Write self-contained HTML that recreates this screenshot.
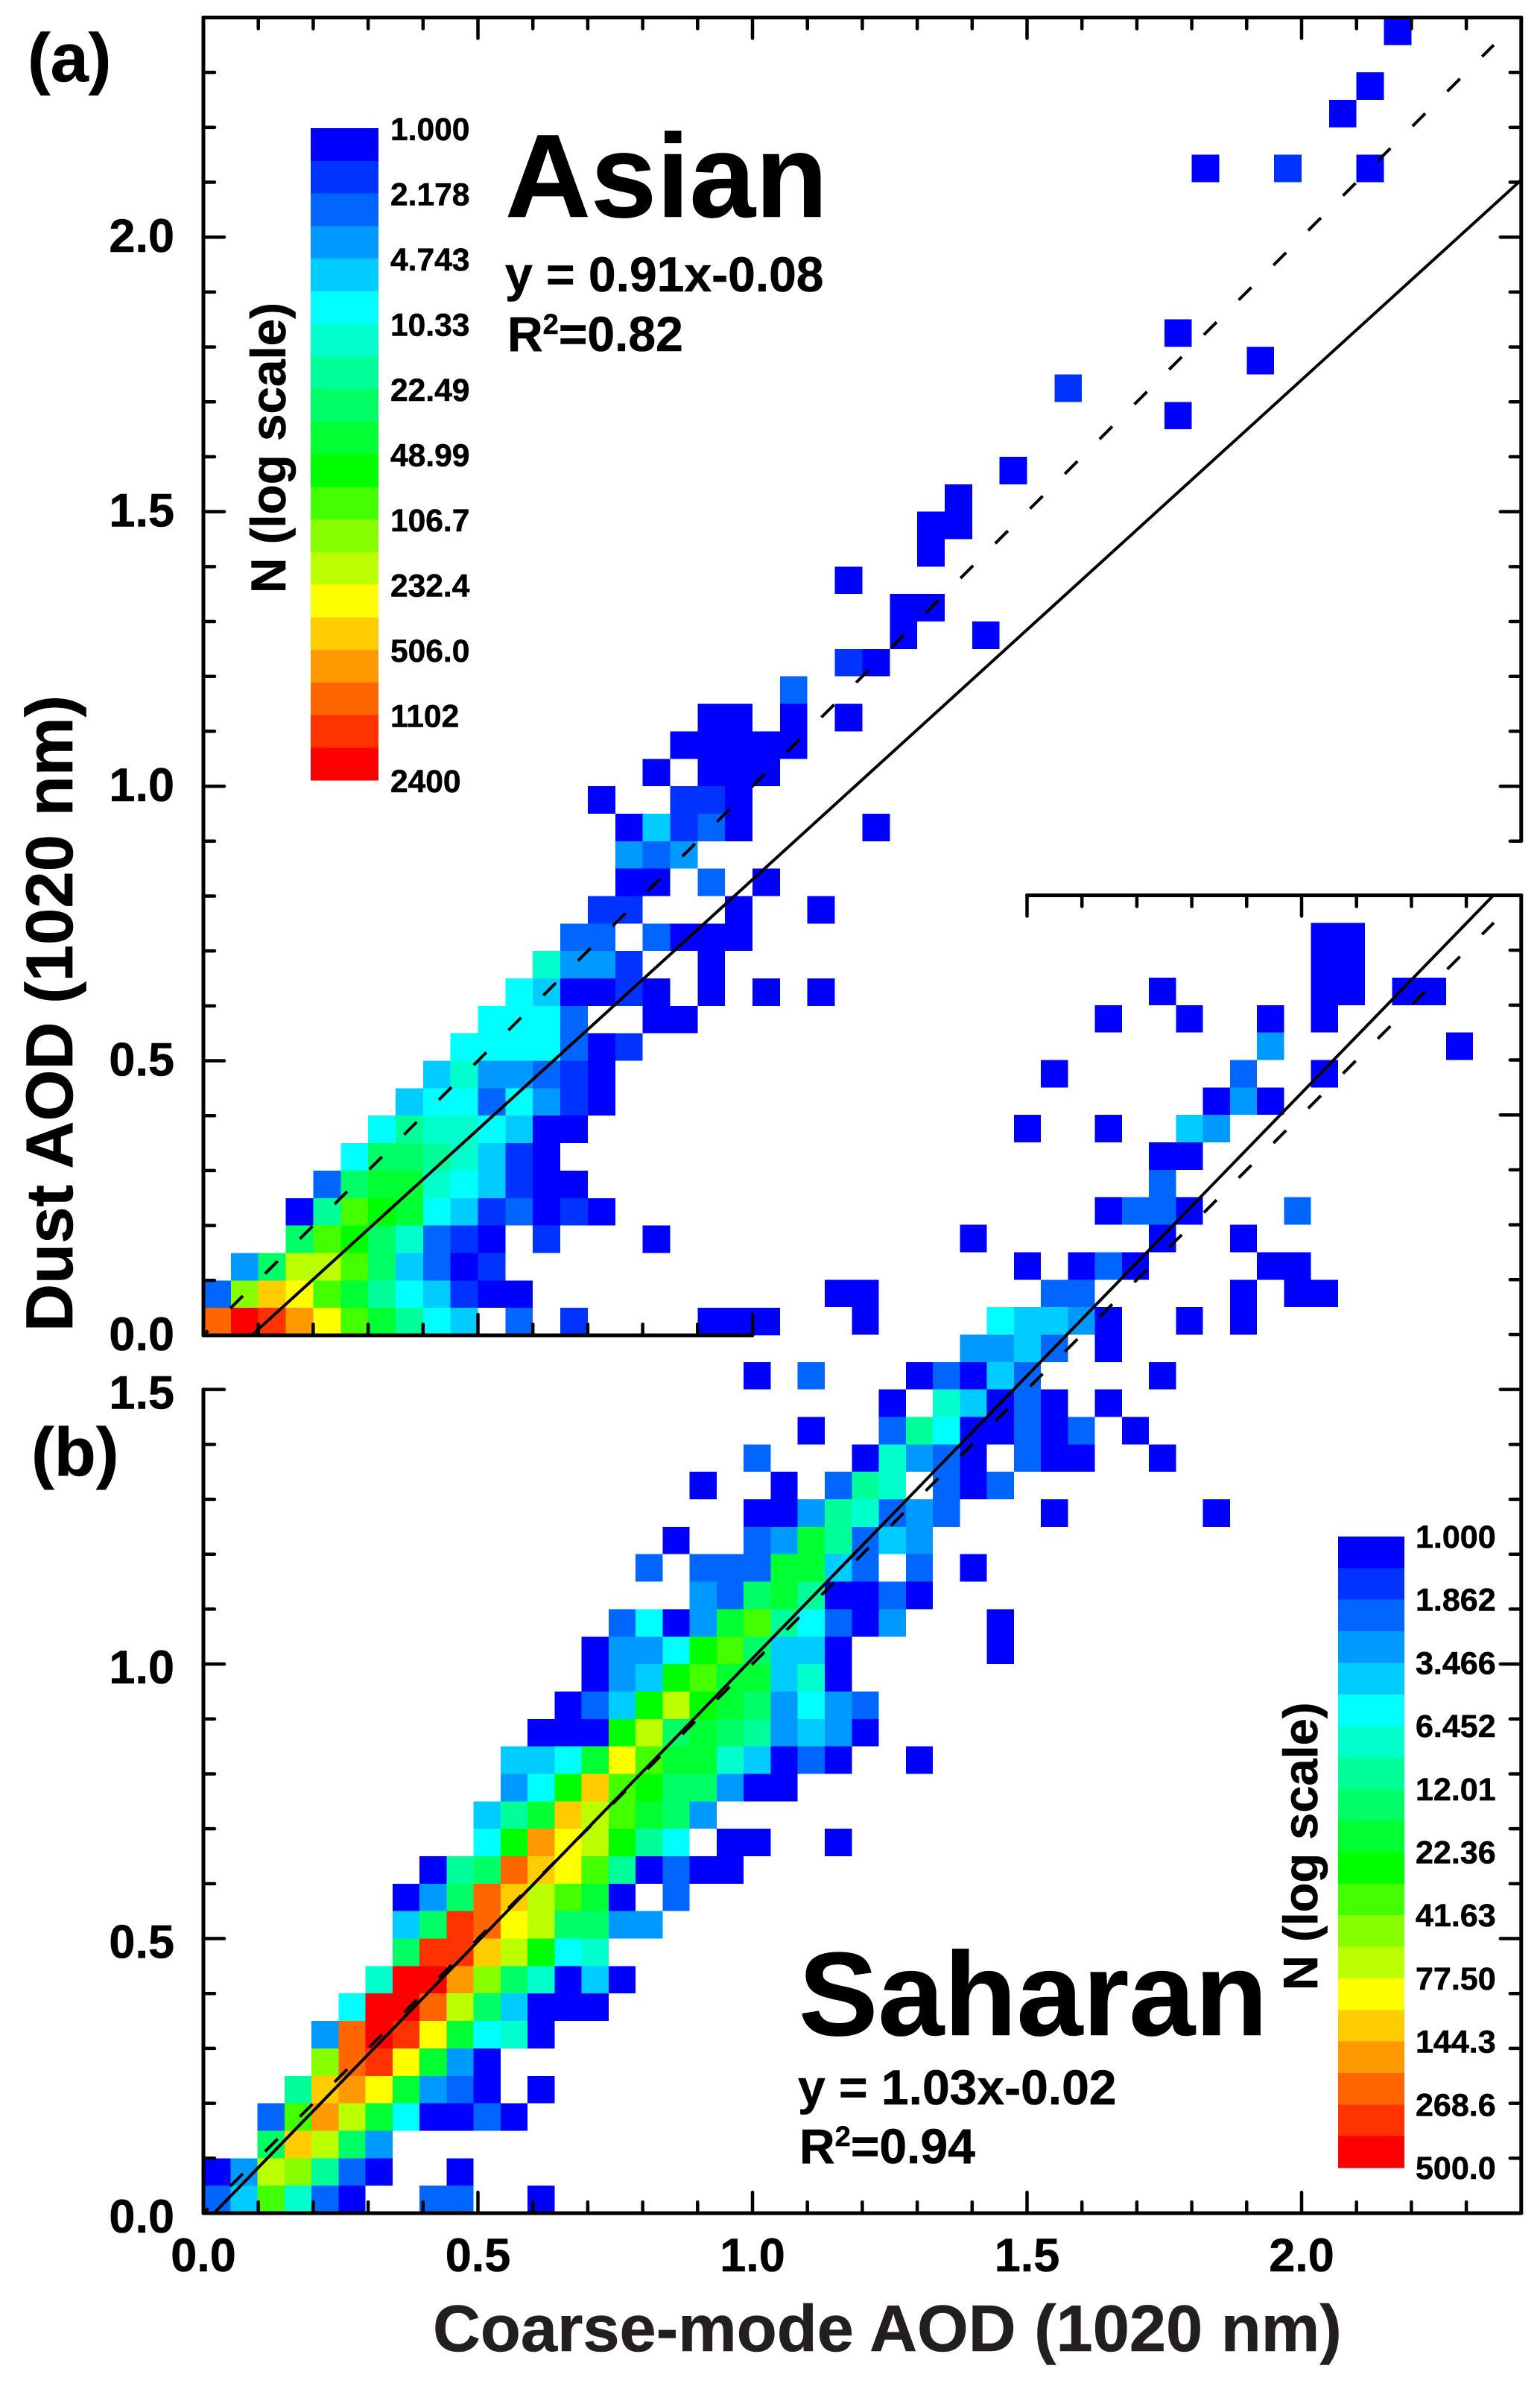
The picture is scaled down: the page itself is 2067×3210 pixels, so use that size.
<!DOCTYPE html>
<html lang="en">
<head>
<meta charset="utf-8">
<title>Dust AOD vs Coarse-mode AOD</title>
<style>
html,body{margin:0;padding:0;background:#fff;}
svg{display:block;}
text{font-family:"Liberation Sans",sans-serif;font-weight:bold;fill:#000;stroke:#000;stroke-width:0.6px;}
</style>
</head>
<body>
<svg id="chart" width="2067" height="3210" viewBox="0 0 2067 3210" xmlns="http://www.w3.org/2000/svg">
<rect x="0" y="0" width="2067" height="3210" fill="#fff"/>
<g id="cells"></g>
<g id="lines"></g>
<g id="axes"></g>
<g id="bars"></g>
<text x="37" y="109" font-size="92">(a)</text>
<text x="42" y="1980" font-size="92">(b)</text>
<text x="678" y="291" font-size="159">Asian</text>
<text x="678" y="391" font-size="66">y = 0.91x-0.08</text>
<text x="681" y="471" font-size="66">R<tspan font-size="38" dy="-23">2</tspan><tspan dy="23">=0.82</tspan></text>
<text x="1072" y="2731" font-size="159.5">Saharan</text>
<text x="1071" y="2824" font-size="66">y = 1.03x-0.02</text>
<text x="1073" y="2903" font-size="66">R<tspan font-size="38" dy="-23">2</tspan><tspan dy="23">=0.94</tspan></text>
<text transform="translate(97,1787) rotate(-90)" font-size="88.7">Dust AOD (1020 nm)</text>
<text x="581" y="3155" font-size="88.4" style="fill:#231f20;stroke:#231f20">Coarse-mode AOD (1020 nm)</text>
<text transform="translate(383,796) rotate(-90)" font-size="65.6">N (log scale)</text>
<text transform="translate(1768,2671) rotate(-90)" font-size="65">N (log scale)</text>
</svg>
<script>
// Colour bins of the N legend (bin 1 = lowest count, bin 20 = highest)
const colorBins = ["#0000ff","#0033ff","#0066ff","#0099ff","#00ccff","#00ffff","#00ffcc","#00ff99","#00ff66","#00ff33","#00ff00","#44ff00","#88ff00","#bbff00","#ffff00","#ffcc00","#ff9900","#ff6600","#ff3300","#ff0000"];
const asianLegendLabels = ["1.000","2.178","4.743","10.33","22.49","48.99","106.7","232.4","506.0","1102","2400"];
const saharanLegendLabels = ["1.000","1.862","3.466","6.452","12.01","22.36","41.63","77.50","144.3","268.6","500.0"];
const asianYLabels = [0,0.5,1,1.5,2];
const saharanYLabels = [0,0.5,1,1.5];
const saharanXLabels = [0,0.5,1,1.5,2];
const asianFit = [0.91,-0.08];
const saharanFit = [1.03,-0.02];
const oneToOneEnd = [2.35];

// Asian panel: colour-bin of each 0.05 x 0.05 AOD cell; outer index = Dust AOD bin, inner = coarse-mode AOD bin; 0 = empty
const asianLevels = [
[18,20,19,17,15,12,10,8,6,5,0,3,0,2,0,0,0,0,1,1,1],
[3,13,16,15,12,10,8,6,5,2,1,1],
[0,4,9,14,14,12,9,5,3,1,2],
[0,0,0,9,12,11,9,7,3,2,1,0,2,0,0,0,1],
[0,0,0,1,8,12,11,10,6,5,2,3,1,2,1],
[0,0,0,0,3,9,10,10,7,6,5,2,1,1],
[0,0,0,0,0,6,9,9,8,7,5,2,1],
[0,0,0,0,0,0,6,8,7,7,6,5,1,1],
[0,0,0,0,0,0,0,5,6,6,3,6,4,2,1],
[0,0,0,0,0,0,0,0,5,7,4,4,3,2,1],
[0,0,0,0,0,0,0,0,0,6,6,6,6,3,1,2],
[0,0,0,0,0,0,0,0,0,0,6,6,6,3,0,0,1,1],
[0,0,0,0,0,0,0,0,0,0,0,6,5,1,1,2,1,0,1,0,1,0,1],
[0,0,0,0,0,0,0,0,0,0,0,0,7,4,4,2,0,0,1],
[0,0,0,0,0,0,0,0,0,0,0,0,0,3,3,0,3,1,1,1],
[0,0,0,0,0,0,0,0,0,0,0,0,0,0,2,2,0,0,0,1,0,0,1],
[0,0,0,0,0,0,0,0,0,0,0,0,0,0,0,1,1,0,3,0,1],
[0,0,0,0,0,0,0,0,0,0,0,0,0,0,0,4,3,4],
[0,0,0,0,0,0,0,0,0,0,0,0,0,0,0,1,5,2,3,1,0,0,0,0,1],
[0,0,0,0,0,0,0,0,0,0,0,0,0,0,1,0,0,2,2,1],
[0,0,0,0,0,0,0,0,0,0,0,0,0,0,0,0,1,0,1,1,1],
[0,0,0,0,0,0,0,0,0,0,0,0,0,0,0,0,0,1,1,1,1,1],
[0,0,0,0,0,0,0,0,0,0,0,0,0,0,0,0,0,0,1,1,0,1,0,1],
[0,0,0,0,0,0,0,0,0,0,0,0,0,0,0,0,0,0,0,0,0,3],
[0,0,0,0,0,0,0,0,0,0,0,0,0,0,0,0,0,0,0,0,0,0,0,2,1],
[0,0,0,0,0,0,0,0,0,0,0,0,0,0,0,0,0,0,0,0,0,0,0,0,0,1,0,0,1],
[0,0,0,0,0,0,0,0,0,0,0,0,0,0,0,0,0,0,0,0,0,0,0,0,0,1,1],
[0,0,0,0,0,0,0,0,0,0,0,0,0,0,0,0,0,0,0,0,0,0,0,1],
[0,0,0,0,0,0,0,0,0,0,0,0,0,0,0,0,0,0,0,0,0,0,0,0,0,0,1],
[0,0,0,0,0,0,0,0,0,0,0,0,0,0,0,0,0,0,0,0,0,0,0,0,0,0,1,1],
[0,0,0,0,0,0,0,0,0,0,0,0,0,0,0,0,0,0,0,0,0,0,0,0,0,0,0,1],
[0,0,0,0,0,0,0,0,0,0,0,0,0,0,0,0,0,0,0,0,0,0,0,0,0,0,0,0,0,1],
[],
[0,0,0,0,0,0,0,0,0,0,0,0,0,0,0,0,0,0,0,0,0,0,0,0,0,0,0,0,0,0,0,0,0,0,0,1],
[0,0,0,0,0,0,0,0,0,0,0,0,0,0,0,0,0,0,0,0,0,0,0,0,0,0,0,0,0,0,0,2],
[0,0,0,0,0,0,0,0,0,0,0,0,0,0,0,0,0,0,0,0,0,0,0,0,0,0,0,0,0,0,0,0,0,0,0,0,0,0,1],
[0,0,0,0,0,0,0,0,0,0,0,0,0,0,0,0,0,0,0,0,0,0,0,0,0,0,0,0,0,0,0,0,0,0,0,1],
[],
[],
[],
[],
[],
[0,0,0,0,0,0,0,0,0,0,0,0,0,0,0,0,0,0,0,0,0,0,0,0,0,0,0,0,0,0,0,0,0,0,0,0,1,0,0,2,0,0,1],
[],
[0,0,0,0,0,0,0,0,0,0,0,0,0,0,0,0,0,0,0,0,0,0,0,0,0,0,0,0,0,0,0,0,0,0,0,0,0,0,0,0,0,1],
[0,0,0,0,0,0,0,0,0,0,0,0,0,0,0,0,0,0,0,0,0,0,0,0,0,0,0,0,0,0,0,0,0,0,0,0,0,0,0,0,0,0,1],
[],
[0,0,0,0,0,0,0,0,0,0,0,0,0,0,0,0,0,0,0,0,0,0,0,0,0,0,0,0,0,0,0,0,0,0,0,0,0,0,0,0,0,0,0,1]
];

// Saharan panel: same layout as asianLevels
const saharanLevels = [
[3,5,12,7,3,1,0,0,3,3,0,0,1],
[1,4,14,13,8,3,1,0,0,1],
[0,0,9,16,14,9,4],
[0,0,3,12,17,14,10,6,1,1,3,1],
[0,0,0,8,16,17,15,10,4,3,1,0,1],
[0,0,0,0,13,18,19,15,10,4,1],
[0,0,0,0,4,18,20,19,15,10,6,7,1],
[0,0,0,0,0,6,20,20,18,14,9,5,1,1,1],
[0,0,0,0,0,0,7,20,20,17,13,9,7,1,5,1],
[0,0,0,0,0,0,0,9,19,19,16,14,11,6,7],
[0,0,0,0,0,0,0,5,9,19,18,15,14,9,9,4,4],
[0,0,0,0,0,0,0,1,4,9,18,16,14,12,10,1,0,3],
[0,0,0,0,0,0,0,0,1,8,9,18,16,15,12,8,1,3,1,1],
[0,0,0,0,0,0,0,0,0,0,6,11,17,15,14,11,8,6,0,1,1,0,0,1],
[0,0,0,0,0,0,0,0,0,0,5,8,10,16,14,12,10,9,4],
[0,0,0,0,0,0,0,0,0,0,0,4,6,11,16,12,11,9,9,4,1,1],
[0,0,0,0,0,0,0,0,0,0,0,5,5,6,10,15,12,10,10,7,5,1,3,1,0,0,1],
[0,0,0,0,0,0,0,0,0,0,0,0,1,1,1,11,14,9,10,9,8,4,5,4,1],
[0,0,0,0,0,0,0,0,0,0,0,0,0,1,3,5,11,14,11,10,9,4,6,4,3],
[0,0,0,0,0,0,0,0,0,0,0,0,0,0,1,4,5,11,12,10,10,5,7,1],
[0,0,0,0,0,0,0,0,0,0,0,0,0,0,1,4,4,6,11,12,9,5,5,1,0,0,0,0,0,1],
[0,0,0,0,0,0,0,0,0,0,0,0,0,0,0,3,6,1,4,10,12,8,6,3,1,4,0,0,0,1],
[0,0,0,0,0,0,0,0,0,0,0,0,0,0,0,0,0,0,4,3,9,10,8,1,1,3,1],
[0,0,0,0,0,0,0,0,0,0,0,0,0,0,0,0,3,0,3,3,3,10,10,5,3,0,3,0,1],
[0,0,0,0,0,0,0,0,0,0,0,0,0,0,0,0,0,1,0,0,3,4,10,8,3,5,4],
[0,0,0,0,0,0,0,0,0,0,0,0,0,0,0,0,0,0,0,0,1,1,4,8,7,3,4,3,0,0,0,1,0,0,0,0,0,1],
[0,0,0,0,0,0,0,0,0,0,0,0,0,0,0,0,0,0,1,0,0,1,0,3,8,7,0,3,1,3],
[0,0,0,0,0,0,0,0,0,0,0,0,0,0,0,0,0,0,0,0,3,0,0,0,1,7,4,3,1,0,3,1,1,0,0,1],
[0,0,0,0,0,0,0,0,0,0,0,0,0,0,0,0,0,0,0,0,0,0,1,0,0,3,8,6,1,1,3,1,3,0,1],
[0,0,0,0,0,0,0,0,0,0,0,0,0,0,0,0,0,0,0,0,0,0,0,0,0,1,0,7,5,1,3,1,0,1],
[0,0,0,0,0,0,0,0,0,0,0,0,0,0,0,0,0,0,0,0,1,0,3,0,0,0,1,3,1,5,3,0,0,0,0,1],
[0,0,0,0,0,0,0,0,0,0,0,0,0,0,0,0,0,0,0,0,0,0,0,0,0,0,0,0,4,4,5,3,0,1],
[0,0,0,0,0,0,0,0,0,0,0,0,0,0,0,0,0,0,0,0,0,0,0,0,1,0,0,0,0,6,5,5,4,1,0,0,1,0,1],
[0,0,0,0,0,0,0,0,0,0,0,0,0,0,0,0,0,0,0,0,0,0,0,1,1,0,0,0,0,0,0,3,3,0,0,0,0,0,1,0,1,1],
[0,0,0,0,0,0,0,0,0,0,0,0,0,0,0,0,0,0,0,0,0,0,0,0,0,0,0,0,0,0,1,0,1,3,1,0,0,0,0,1,1],
[0,0,0,0,0,0,0,0,0,0,0,0,0,0,0,0,0,0,0,0,0,0,0,0,0,0,0,0,1,0,0,0,0,0,0,1,0,0,1],
[0,0,0,0,0,0,0,0,0,0,0,0,0,0,0,0,0,0,0,0,0,0,0,0,0,0,0,0,0,0,0,0,0,1,3,3,1,0,0,0,3],
[0,0,0,0,0,0,0,0,0,0,0,0,0,0,0,0,0,0,0,0,0,0,0,0,0,0,0,0,0,0,0,0,0,0,0,3],
[0,0,0,0,0,0,0,0,0,0,0,0,0,0,0,0,0,0,0,0,0,0,0,0,0,0,0,0,0,0,0,0,0,0,0,1,1],
[0,0,0,0,0,0,0,0,0,0,0,0,0,0,0,0,0,0,0,0,0,0,0,0,0,0,0,0,0,0,1,0,0,1,0,0,5,4],
[0,0,0,0,0,0,0,0,0,0,0,0,0,0,0,0,0,0,0,0,0,0,0,0,0,0,0,0,0,0,0,0,0,0,0,0,0,1,4,1],
[0,0,0,0,0,0,0,0,0,0,0,0,0,0,0,0,0,0,0,0,0,0,0,0,0,0,0,0,0,0,0,1,0,0,0,0,0,0,3,0,0,1],
[0,0,0,0,0,0,0,0,0,0,0,0,0,0,0,0,0,0,0,0,0,0,0,0,0,0,0,0,0,0,0,0,0,0,0,0,0,0,0,4,0,0,0,0,0,0,1],
[0,0,0,0,0,0,0,0,0,0,0,0,0,0,0,0,0,0,0,0,0,0,0,0,0,0,0,0,0,0,0,0,0,1,0,0,1,0,0,1,0,1],
[0,0,0,0,0,0,0,0,0,0,0,0,0,0,0,0,0,0,0,0,0,0,0,0,0,0,0,0,0,0,0,0,0,0,0,1,0,0,0,0,0,1,1,0,1,1],
[0,0,0,0,0,0,0,0,0,0,0,0,0,0,0,0,0,0,0,0,0,0,0,0,0,0,0,0,0,0,0,0,0,0,0,0,0,0,0,0,0,1,1],
[0,0,0,0,0,0,0,0,0,0,0,0,0,0,0,0,0,0,0,0,0,0,0,0,0,0,0,0,0,0,0,0,0,0,0,0,0,0,0,0,0,1,1]
];

const SVGNS = "http://www.w3.org/2000/svg";
const cellsLayer = document.getElementById("cells");
const linesLayer = document.getElementById("lines");
const axesLayer = document.getElementById("axes");
const barsLayer = document.getElementById("bars");

// axis functions
const plotLeft = 273, pxPerX = 737;
function xScale(v){ return plotLeft + v * pxPerX; }
const pxPerY = 736.9;
function asianY(v){ return 1792 - v * pxPerY; }
function saharanY(v){ return 2970 - v * pxPerY; }
const binSize = 0.05;
const saharanBinX = 0.0492;
function colorOf(level){ return colorBins[level - 1]; }

function makeEl(tag){ return document.createElementNS(SVGNS, tag); }

function drawLine(parent, x1, y1, x2, y2, width){
  const el = makeEl("line");
  el.setAttribute("x1", x1);
  el.setAttribute("y1", y1);
  el.setAttribute("x2", x2);
  el.setAttribute("y2", y2);
  el.setAttribute("stroke", "#000");
  el.setAttribute("stroke-width", width);
  el.setAttribute("stroke-linecap", "round");
  parent.appendChild(el);
  return el;
}

function drawCells(levels, yFn, xStep, gName){
  const g = makeEl("g");
  g.setAttribute("shape-rendering", "crispEdges");
  
  
  levels.forEach(function(row, r){
    row.forEach(function(level, c){
      if(!level) return;
      const rect = makeEl("rect");
      
      
      const x0 = xScale(c * xStep), x1 = xScale((c + 1) * xStep);
      const y0 = yFn((r + 1) * binSize), y1 = yFn(r * binSize);
      rect.setAttribute("x", x0.toFixed(2));
      rect.setAttribute("y", y0.toFixed(2));
      rect.setAttribute("width", (x1 - x0).toFixed(2));
      rect.setAttribute("height", (y1 - y0).toFixed(2));
      rect.setAttribute("fill", colorOf(level));
      g.appendChild(rect);
    });
  });
  cellsLayer.appendChild(g);
}
drawCells(asianLevels, asianY, binSize, "asian-heatmap");
drawCells(saharanLevels, saharanY, saharanBinX, "saharan-heatmap");

// regression + 1:1 lines
function fitLine(fit, yFn, xStart, xEnd){
  const el = drawLine(linesLayer, xScale(xStart), yFn(fit[0] * xStart + fit[1]), xScale(xEnd), yFn(fit[0] * xEnd + fit[1]), 4);
  
  
}
function identityLine(yFn){
  const el = drawLine(linesLayer, xScale(0), yFn(0), xScale(oneToOneEnd[0]), yFn(oneToOneEnd[0]), 4);
  el.setAttribute("stroke-linecap", "butt");
  el.setAttribute("stroke-dasharray", "24 42");
  el.setAttribute("stroke-dashoffset", "15");
  
  
}
identityLine(asianY);
identityLine(saharanY);
fitLine(asianFit, asianY, -asianFit[1] / asianFit[0], 2.4);
fitLine(saharanFit, saharanY, -saharanFit[1] / saharanFit[0], (2.4 - saharanFit[1]) / saharanFit[0]);

// axes
const TICK_STEPS = 24;
function tickLen(i){ return i % 5 === 0 ? 28 : 15; }
function axisFrame(x1, y1, x2, y2, name){
  const el = drawLine(axesLayer, x1, y1, x2, y2, 5);
  
  
}
function xTicks(yPix, dir, from, to, name){
  for(let i = from; i <= to; i++){
    const el = drawLine(axesLayer, xScale(i / 10), yPix, xScale(i / 10), yPix + dir * tickLen(i), 4.5);
    
    
  }
}
function yTicks(xPix, dir, yFn, from, to, name){
  for(let i = from; i <= to; i++){
    const el = drawLine(axesLayer, xPix, yFn(i / 10), xPix + dir * tickLen(i), yFn(i / 10), 4.5);
    
    
  }
}
const rightEdge = xScale(2.4);
// panel a
axisFrame(plotLeft, asianY(2.4), plotLeft, asianY(0), "asian-left-axis");
axisFrame(plotLeft, asianY(2.4), rightEdge, asianY(2.4), "asian-top-axis");
axisFrame(rightEdge, asianY(2.4), rightEdge, asianY(0.9), "asian-right-axis");
axisFrame(plotLeft, asianY(0), xScale(1), asianY(0), "asian-bottom-axis");
yTicks(plotLeft, 1, asianY, 1, TICK_STEPS, "asian-left-tick");
yTicks(rightEdge, -1, asianY, 9, TICK_STEPS, "asian-right-tick");
xTicks(asianY(2.4), 1, 1, TICK_STEPS, "asian-top-tick");
xTicks(asianY(0), -1, 1, 10, "asian-bottom-tick");
// panel b
axisFrame(plotLeft, saharanY(1.5), plotLeft, saharanY(0), "saharan-left-axis");
axisFrame(plotLeft, saharanY(0), rightEdge, saharanY(0), "saharan-bottom-axis");
axisFrame(rightEdge, saharanY(2.4), rightEdge, saharanY(0), "saharan-right-axis");
axisFrame(xScale(1.5), saharanY(2.4), rightEdge, saharanY(2.4), "saharan-top-axis");
yTicks(plotLeft, 1, saharanY, 1, 15, "saharan-left-tick");
yTicks(rightEdge, -1, saharanY, 1, TICK_STEPS, "saharan-right-tick");
xTicks(saharanY(0), -1, 1, TICK_STEPS, "saharan-bottom-tick");
xTicks(saharanY(2.4), 1, 15, TICK_STEPS, "saharan-top-tick");

// tick labels
function drawText(str, x, y, size, anchor){
  const t = makeEl("text");
  t.textContent = str;
  t.setAttribute("x", x);
  t.setAttribute("y", y);
  t.setAttribute("font-size", size);
  t.setAttribute("text-anchor", anchor);
  document.getElementById("chart").appendChild(t);
  return t;
}
asianYLabels.forEach(function(v){
  const t = drawText(v.toFixed(1), 234, asianY(v) + 20, 63, "end");
  
  
});
saharanYLabels.forEach(function(v){
  const t = drawText(v.toFixed(1), 234, saharanY(v) + 26, 63, "end");
  
  
});
saharanXLabels.forEach(function(v){
  const t = drawText(v.toFixed(1), xScale(v), 3048, 63, "middle");
  
  
});

// colour bars
function drawColorBar(xPos, width, top, bottom, labels, labelX, labelDy, labelSize, barName){
  const g = makeEl("g");
  g.setAttribute("shape-rendering", "crispEdges");
  
  
  const h = (bottom - top) / colorBins.length;
  colorBins.forEach(function(color, i){
    const r = makeEl("rect");
    
    
    r.setAttribute("x", xPos);
    r.setAttribute("y", (top + i * h).toFixed(2));
    r.setAttribute("width", width);
    r.setAttribute("height", (h + 0.5).toFixed(2));
    r.setAttribute("fill", color);
    g.appendChild(r);
  });
  barsLayer.appendChild(g);
  const step = (bottom - top) / (labels.length - 1);
  labels.forEach(function(label, i){
    const t = drawText(label, labelX, top + labelDy + i * step, labelSize, "start");
    
    
  });
}
drawColorBar(417, 91, 172, 1047, asianLegendLabels, 524, 16, 42.5, "asian-colorbar");
drawColorBar(1796, 89, 2062, 2909, saharanLegendLabels, 1900, 15, 43, "saharan-colorbar");
</script>
</body>
</html>
